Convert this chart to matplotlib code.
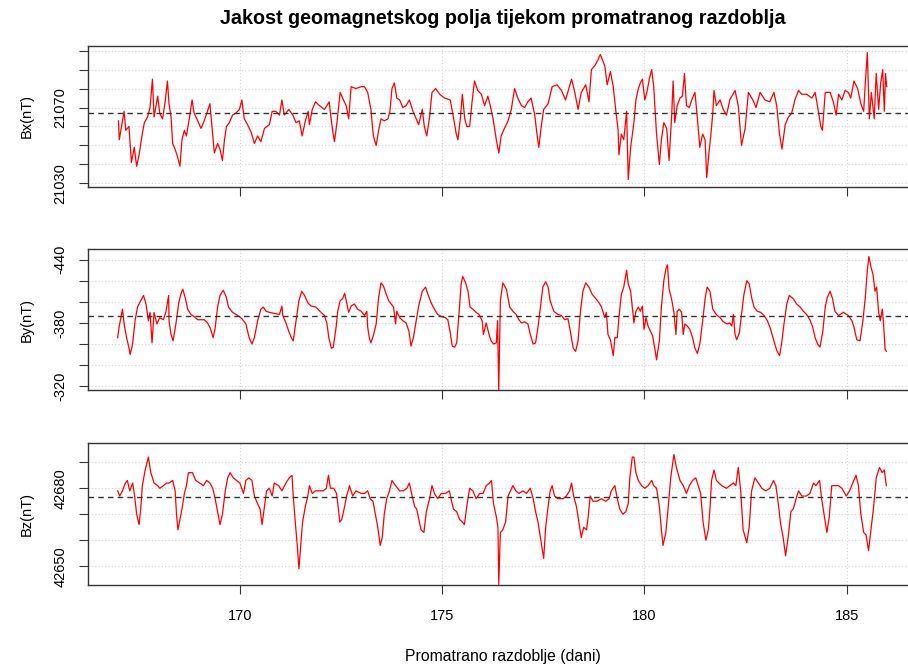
import matplotlib
matplotlib.use("Agg")
import matplotlib.pyplot as plt

plt.rcParams["font.family"] = ["Liberation Sans", "DejaVu Sans"]

# Bx (nT)
bx_day = [167.00, 167.02, 167.14, 167.18, 167.26, 167.32, 167.39, 167.45, 167.51, 167.58,
          167.64, 167.72, 167.78, 167.84, 167.88, 167.97, 168.02, 168.09, 168.16, 168.21,
          168.25, 168.30, 168.34, 168.40, 168.46, 168.52, 168.57, 168.63, 168.68, 168.75,
          168.82, 168.87, 168.96, 169.04, 169.12, 169.20, 169.26, 169.31, 169.37, 169.45,
          169.51, 169.57, 169.62, 169.67, 169.74, 169.82, 169.90, 169.99, 170.05, 170.11,
          170.19, 170.28, 170.36, 170.44, 170.52, 170.61, 170.73, 170.80, 170.89, 170.98,
          171.04, 171.10, 171.21, 171.31, 171.39, 171.47, 171.54, 171.62, 171.69, 171.72,
          171.79, 171.87, 171.97, 172.09, 172.21, 172.24, 172.30, 172.34, 172.40, 172.48,
          172.56, 172.63, 172.69, 172.75, 172.87, 173.00, 173.08, 173.16,
          173.24, 173.30, 173.37, 173.43, 173.49, 173.57, 173.66, 173.71, 173.76, 173.82,
          173.88, 173.95, 174.03, 174.11, 174.19, 174.28, 174.36, 174.42, 174.51, 174.56,
          174.62, 174.69, 174.75, 174.84, 174.94, 175.06, 175.20, 175.27, 175.35, 175.39,
          175.45, 175.50, 175.56, 175.61, 175.68, 175.74, 175.80, 175.88, 175.97, 176.05,
          176.13, 176.19, 176.26, 176.34, 176.40, 176.46, 176.54, 176.63, 176.71, 176.79,
          176.87, 176.96, 177.04, 177.12, 177.20, 177.29, 177.35, 177.39, 177.45, 177.51,
          177.62, 177.72, 177.84, 177.95, 178.05, 178.20, 178.28, 178.36, 178.44, 178.55,
          178.63, 178.69, 178.77, 178.85, 178.91, 179.02, 179.08, 179.16, 179.23, 179.29,
          179.35, 179.37, 179.43, 179.49, 179.56, 179.60, 179.66,
          179.74, 179.79, 179.85, 179.90, 179.95, 180.01, 180.07, 180.12, 180.18, 180.23,
          180.30, 180.37, 180.42, 180.48, 180.55, 180.61, 180.67, 180.71, 180.75, 180.81,
          180.88, 180.94, 180.99, 181.04, 181.11, 181.17, 181.25, 181.31, 181.37, 181.44,
          181.50, 181.54, 181.59, 181.64, 181.69, 181.72, 181.78, 181.87, 181.95, 182.03,
          182.11, 182.24, 182.32, 182.40, 182.49, 182.57, 182.68, 182.76, 182.86, 182.98,
          183.10, 183.20, 183.27, 183.34, 183.40, 183.48, 183.56, 183.64, 183.72, 183.81,
          183.89, 184.01, 184.14, 184.22, 184.30, 184.36, 184.40, 184.47, 184.59, 184.67,
          184.74, 184.80, 184.88, 184.96, 185.04, 185.10, 185.18, 185.27, 185.35, 185.42,
          185.46, 185.51, 185.56, 185.61, 185.68, 185.73, 185.79, 185.84, 185.89, 185.93,
          185.96, 185.99]
bx = [21063, 21053, 21068, 21058, 21060, 21041, 21049, 21039, 21045, 21055,
      21062, 21065, 21070, 21085, 21065, 21076, 21067, 21064, 21074, 21084,
      21072, 21065, 21051, 21048, 21044, 21039, 21053, 21058, 21055, 21064,
      21074, 21067, 21063, 21059, 21063, 21068, 21072, 21060, 21046, 21051,
      21048, 21042, 21053, 21060, 21062, 21066, 21067, 21069, 21074, 21064,
      21061, 21057, 21051, 21055, 21052, 21059, 21061, 21068, 21068, 21066,
      21074, 21066, 21069, 21066, 21062, 21063, 21055, 21063, 21068, 21061,
      21069, 21073, 21071, 21069, 21073, 21067, 21057, 21052, 21062, 21078,
      21074, 21071, 21064, 21081, 21080, 21081, 21081, 21078,
      21069, 21055, 21050, 21058, 21064, 21063, 21064, 21068, 21080, 21083,
      21075, 21074, 21070, 21071, 21074, 21068, 21064, 21061, 21069, 21060,
      21055, 21065, 21078, 21080, 21077, 21075, 21074, 21066, 21056, 21053,
      21064, 21077, 21064, 21060, 21060, 21073, 21084, 21079, 21077, 21071,
      21076, 21071, 21064, 21053, 21046, 21055, 21059, 21063, 21069, 21080,
      21075, 21071, 21070, 21073, 21075, 21066, 21055, 21049, 21060, 21069,
      21072, 21081, 21082, 21079, 21074, 21085, 21078, 21069, 21078, 21082,
      21073, 21090, 21092, 21095, 21098, 21092, 21082, 21089, 21081, 21069,
      21058, 21045, 21056, 21053, 21068, 21032, 21049,
      21062, 21074, 21080, 21083, 21085, 21074, 21079, 21085, 21090, 21081,
      21056, 21040, 21053, 21062, 21059, 21042, 21064, 21084, 21062, 21071,
      21075, 21076, 21088, 21071, 21070, 21074, 21078, 21064, 21049, 21056,
      21053, 21033, 21045, 21055, 21067, 21079, 21071, 21074, 21069, 21066,
      21074, 21079, 21071, 21050, 21059, 21078, 21074, 21070, 21078, 21074,
      21073, 21078, 21071, 21056, 21048, 21061, 21065, 21067, 21074, 21079,
      21077, 21077, 21075, 21078, 21068, 21060, 21058, 21078, 21078, 21073,
      21066, 21077, 21074, 21079, 21078, 21075, 21084, 21080, 21072, 21068,
      21083, 21099, 21064, 21078, 21064, 21088, 21069, 21083, 21090, 21068,
      21088, 21081]

# By (nT)
by_day = [166.98, 167.02, 167.06, 167.10, 167.14, 167.20, 167.25, 167.29, 167.35, 167.41,
          167.47, 167.55, 167.62, 167.68, 167.74, 167.78, 167.83, 167.88, 167.95, 168.02,
          168.11, 168.17, 168.24, 168.25, 168.30, 168.35, 168.42, 168.49, 168.54, 168.59,
          168.65, 168.71, 168.79, 168.87, 168.96, 169.04, 169.12, 169.20, 169.27, 169.34,
          169.39, 169.45, 169.51, 169.59, 169.66, 169.72, 169.82, 169.95, 170.05, 170.15,
          170.23, 170.30, 170.36, 170.44, 170.52, 170.58, 170.65, 170.73, 170.85, 170.98,
          171.04, 171.06, 171.14, 171.21, 171.27, 171.32, 171.39, 171.46, 171.53, 171.60,
          171.68, 171.76, 171.88, 171.98, 172.09, 172.15, 172.20, 172.26, 172.31, 172.38,
          172.42, 172.48, 172.54, 172.59, 172.63, 172.69, 172.75, 172.83, 172.91, 173.00,
          173.08, 173.14,
          173.16, 173.20, 173.24, 173.30, 173.37, 173.43, 173.49, 173.55, 173.62, 173.68,
          173.74, 173.80, 173.85, 173.88, 173.95, 174.03, 174.11, 174.18, 174.23, 174.29,
          174.36, 174.42, 174.51, 174.59, 174.65, 174.73, 174.81, 174.89, 174.98, 175.08,
          175.14, 175.20, 175.25, 175.31, 175.36, 175.43, 175.47, 175.51, 175.58, 175.64,
          175.69, 175.76, 175.84, 175.91, 175.99, 176.02, 176.09, 176.16, 176.21, 176.27,
          176.34, 176.37, 176.40, 176.44, 176.50, 176.59, 176.67, 176.75, 176.83, 176.90,
          176.96, 177.04, 177.12, 177.18, 177.25, 177.31, 177.37, 177.43, 177.49, 177.56,
          177.62, 177.67, 177.76, 177.86, 177.95, 178.03, 178.11, 178.17, 178.24, 178.30,
          178.36, 178.42, 178.48, 178.55, 178.63, 178.71, 178.80, 178.88, 178.94, 179.02,
          179.06, 179.10, 179.16, 179.23, 179.27, 179.33, 179.37, 179.43, 179.49, 179.56,
          179.60, 179.66,
          179.74, 179.79, 179.85, 179.90, 179.95, 179.99, 180.04, 180.09, 180.15, 180.20,
          180.26, 180.30, 180.37, 180.42, 180.48, 180.53, 180.57, 180.61, 180.67, 180.73,
          180.78, 180.81, 180.86, 180.92, 180.96, 181.00, 181.06, 181.12, 181.19, 181.25,
          181.31, 181.37, 181.44, 181.50, 181.55, 181.62, 181.69, 181.74, 181.80, 181.87,
          181.93, 181.99, 182.05, 182.11, 182.16, 182.20, 182.24, 182.28, 182.35, 182.40,
          182.46, 182.53, 182.59, 182.65, 182.71, 182.79, 182.87, 182.96, 183.04, 183.12,
          183.20, 183.27, 183.34, 183.39, 183.45, 183.52, 183.58, 183.68, 183.76, 183.85,
          183.93, 184.01, 184.09, 184.16, 184.22, 184.28, 184.34, 184.41, 184.47, 184.52,
          184.59, 184.65, 184.71, 184.80, 184.92, 185.04, 185.13, 185.18, 185.25, 185.33,
          185.40, 185.46, 185.51, 185.55, 185.60, 185.65, 185.70, 185.74, 185.79, 185.83,
          185.88, 185.91, 185.95, 185.98]
by = [-366, -377, -385, -393, -379, -366, -358, -350, -360, -382,
      -395, -401, -406, -398, -382, -390, -361, -390, -379, -385,
      -383, -390, -406, -382, -369, -363, -379, -399, -407, -412,
      -404, -393, -388, -386, -383, -383, -383, -380, -375, -366,
      -375, -395, -406, -411, -405, -395, -390, -387, -384, -379,
      -366, -360, -366, -382, -393, -395, -391, -390, -389, -388,
      -396, -387, -380, -372, -366, -363, -382, -401, -410, -406,
      -399, -396, -395, -391, -387, -380, -366, -356, -357, -376,
      -391, -401, -403, -408, -401, -390, -396, -398, -393, -391,
      -387, -391,
      -376, -366, -361, -368, -379, -404, -418, -415, -407, -401,
      -398, -395, -379, -391, -385, -382, -380, -372, -358, -366,
      -382, -396, -410, -414, -407, -399, -393, -388, -386, -385,
      -383, -371, -358, -357, -361, -395, -417, -424, -418, -410,
      -395, -393, -390, -388, -382, -369, -380, -369, -363, -360,
      -361, -382, -316, -401, -418, -412, -395, -391, -388, -383,
      -380, -381, -379, -369, -360, -361, -376, -395, -414, -419,
      -414, -401, -391, -388, -387, -383, -384, -372, -356, -353,
      -363, -391, -410, -418, -414, -407, -403, -399, -395, -385,
      -390, -369, -364, -349, -366, -366, -385, -407, -414, -430,
      -417, -410,
      -380, -391, -395, -391, -396, -374, -385, -377, -372, -368,
      -355, -345, -363, -395, -420, -431, -435, -412, -403, -390,
      -369, -391, -393, -390, -369, -379, -377, -374, -366, -356,
      -351, -360, -382, -403, -414, -410, -393, -390, -387, -385,
      -382, -380, -379, -380, -377, -388, -369, -364, -371, -388,
      -407, -420, -417, -404, -395, -391, -390, -387, -382, -374,
      -363, -354, -349, -360, -379, -398, -406, -403, -398, -395,
      -391, -388, -383, -376, -366, -360, -357, -372, -395, -404,
      -410, -403, -391, -387, -390, -387, -382, -376, -364, -363,
      -382, -404, -430, -443, -433, -426, -410, -414, -390, -382,
      -393, -380, -355, -353]

# Bz (nT)
bz_day = [166.98, 167.03, 167.10, 167.17, 167.22, 167.28, 167.35, 167.40, 167.45, 167.51,
          167.55, 167.59, 167.66, 167.74, 167.80, 167.88, 167.97, 168.02, 168.11, 168.19,
          168.25, 168.34, 168.40, 168.44, 168.47, 168.52, 168.57, 168.63, 168.68, 168.73,
          168.83, 168.91, 169.01, 169.10, 169.18, 169.26, 169.33, 169.39, 169.45, 169.51,
          169.57, 169.64, 169.70, 169.76, 169.84, 169.92, 170.00, 170.09, 170.15, 170.22,
          170.30, 170.36, 170.44, 170.50, 170.55, 170.61, 170.66, 170.73, 170.80, 170.85,
          170.96, 171.04, 171.14, 171.22, 171.29, 171.32, 171.37, 171.42, 171.46, 171.50,
          171.55, 171.62, 171.68, 171.72, 171.79, 171.87, 171.97, 172.06, 172.14, 172.19,
          172.24, 172.32, 172.39, 172.43, 172.47, 172.52, 172.59, 172.64, 172.71, 172.79,
          172.87, 173.00,
          173.08, 173.16, 173.22, 173.29, 173.35, 173.41, 173.47, 173.52, 173.57, 173.63,
          173.70, 173.76, 173.85, 173.95, 174.04, 174.13, 174.19, 174.26, 174.32, 174.37,
          174.44, 174.48, 174.55, 174.61, 174.69, 174.75, 174.81, 174.89, 174.98, 175.08,
          175.18, 175.22, 175.28, 175.36, 175.43, 175.50, 175.55, 175.61, 175.68, 175.76,
          175.84, 175.93, 176.01, 176.09, 176.17, 176.22, 176.27, 176.34, 176.38, 176.40,
          176.44, 176.50, 176.57, 176.63, 176.69, 176.75, 176.82, 176.90, 177.00, 177.08,
          177.18, 177.25, 177.31, 177.37, 177.43, 177.48, 177.51, 177.56, 177.62, 177.67,
          177.72, 177.78, 177.86, 177.99, 178.07, 178.15, 178.20, 178.25, 178.32, 178.38,
          178.44, 178.50, 178.57, 178.61, 178.66, 178.73, 178.83, 178.94, 179.04, 179.13,
          179.18, 179.27, 179.33, 179.39, 179.47, 179.54, 179.60, 179.64,
          179.70, 179.74, 179.79, 179.85, 179.93, 180.01, 180.09, 180.18, 180.23, 180.30,
          180.37, 180.42, 180.46, 180.53, 180.59, 180.65, 180.73, 180.79, 180.88, 180.96,
          181.04, 181.11, 181.19, 181.27, 181.33, 181.39, 181.45, 181.52, 181.58, 181.62,
          181.66, 181.72, 181.78, 181.91, 182.03, 182.11, 182.20, 182.26, 182.32, 182.38,
          182.44, 182.53, 182.59, 182.65, 182.73, 182.82, 182.90, 183.00, 183.10, 183.19,
          183.25, 183.31, 183.37, 183.43, 183.49, 183.56, 183.62, 183.68, 183.75, 183.81,
          183.89, 184.00, 184.09, 184.18, 184.24, 184.33, 184.38, 184.44, 184.51, 184.57,
          184.63, 184.71, 184.80, 184.88, 184.99, 185.07, 185.15, 185.23, 185.29, 185.35,
          185.42, 185.48, 185.54, 185.60, 185.66, 185.73, 185.81, 185.88, 185.93, 185.98]
bz = [42679, 42677, 42679, 42682, 42683, 42679, 42682, 42677, 42670, 42666,
      42672, 42681, 42687, 42692, 42686, 42682, 42681, 42680, 42681, 42682,
      42682, 42683, 42679, 42669, 42664, 42668, 42672, 42678, 42681, 42686,
      42686, 42683, 42682, 42681, 42683, 42682, 42680, 42676, 42671, 42666,
      42670, 42679, 42684, 42686, 42684, 42683, 42682, 42678, 42683, 42684,
      42683, 42677, 42674, 42672, 42666, 42673, 42679, 42680, 42677, 42682,
      42681, 42679, 42682, 42684, 42685, 42677, 42667, 42658, 42649, 42657,
      42667, 42673, 42677, 42681, 42678, 42679, 42679, 42679, 42680, 42685,
      42680, 42680, 42678, 42673, 42667, 42668, 42673, 42677, 42681, 42677,
      42679, 42678,
      42678, 42679, 42676, 42675, 42670, 42665, 42658, 42661, 42670, 42676,
      42679, 42683, 42681, 42679, 42679, 42680, 42682, 42677, 42673, 42672,
      42667, 42664, 42663, 42671, 42676, 42681, 42678, 42676, 42678, 42678,
      42679, 42676, 42672, 42671, 42668, 42667, 42666, 42673, 42680, 42679,
      42676, 42678, 42678, 42681, 42682, 42683, 42674, 42669, 42665, 42643,
      42663, 42664, 42667, 42677, 42679, 42681, 42679, 42678, 42679, 42678,
      42680, 42676, 42671, 42667, 42661, 42656, 42653, 42665, 42673, 42679,
      42681, 42677, 42676, 42676, 42677, 42679, 42682, 42677, 42673, 42667,
      42661, 42665, 42664, 42669, 42677, 42675, 42675, 42676, 42675, 42676,
      42679, 42681, 42676, 42672, 42670, 42671, 42674, 42684,
      42692, 42692, 42686, 42683, 42681, 42680, 42681, 42683, 42681, 42680,
      42673, 42664, 42658, 42663, 42673, 42684, 42693, 42688, 42683, 42681,
      42678, 42681, 42683, 42684, 42681, 42678, 42667, 42660, 42664, 42672,
      42683, 42687, 42683, 42681, 42680, 42681, 42682, 42681, 42688, 42679,
      42664, 42659, 42665, 42679, 42684, 42682, 42680, 42679, 42680, 42683,
      42681, 42674, 42666, 42661, 42654, 42662, 42671, 42672, 42676, 42679,
      42677, 42677, 42678, 42682, 42681, 42683, 42676, 42670, 42663, 42669,
      42681, 42681, 42681, 42680, 42677, 42679, 42682, 42685, 42681, 42670,
      42663, 42662, 42656, 42664, 42672, 42684, 42688, 42686, 42687, 42681]

# horizontal reference (mean) levels
bx_mean = 21067
by_mean = -387
bz_mean = 42676.7

x_ticks = [170, 175, 180, 185]
panels = [
    (bx_day, bx, bx_mean, "Bx(nT)", (21028.2, 21102.6),
     list(range(21030, 21101, 10)), {21070: "21070", 21030: "21030"}),
    (by_day, by, by_mean, "By(nT)", (-315.9, -450.1),
     list(range(-440, -319, 20)), {-440: "-440", -380: "-380", -320: "-320"}),
    (bz_day, bz, bz_mean, "Bz(nT)", (42642.9, 42697.3),
     list(range(42650, 42691, 10)), {42680: "42680", 42650: "42650"}),
]
boxes = [(0.0966, 0.7192, 0.9143, 0.2120),
         (0.0966, 0.4128, 0.9143, 0.2128),
         (0.0966, 0.1208, 0.9143, 0.2126)]

fig = plt.figure(figsize=(9.08, 6.65), dpi=100)
for i, (days, vals, mean, label, ylim, yt, ylab) in enumerate(panels):
    ax = fig.add_axes(boxes[i])
    ax.set_xlim(166.24, 186.76)
    ax.set_ylim(*ylim)
    ax.set_xticks(x_ticks)
    ax.set_yticks(yt)
    ax.set_yticklabels([ylab.get(v, "") for v in yt])
    for t in ax.get_yticklabels():
        t.set_rotation(90)
        t.set_va("center")
    if i < 2:
        ax.set_xticklabels([])
    ax.tick_params(axis="y", direction="out", length=6.5, width=0.8, labelsize=10.5,
                   color="#333333", pad=8)
    ax.tick_params(axis="x", direction="out", length=6.5, width=0.8, labelsize=10.5,
                   color="#333333", pad=11)
    ax.grid(True, color="#d3d3d3", linestyle=(0, (1, 2)), linewidth=0.8)
    ax.set_axisbelow(True)
    for s in ax.spines.values():
        s.set_color("#333333")
        s.set_linewidth(1.0)
    ax.plot(days, vals, color="red", linewidth=0.9)
    ax.axhline(mean, color="#333333", linestyle=(0, (4, 3)), linewidth=1.0)
    ax.set_ylabel(label, fontsize=10.5, labelpad=14)
    if i == 2:
        ax.set_xlabel("Promatrano razdoblje (dani)", fontsize=11.3, labelpad=19)

fig.text(0.5537, 0.972, "Jakost geomagnetskog polja tijekom promatranog razdoblja",
         ha="center", va="center", fontsize=14.2, fontweight="bold")

fig.savefig("out.png", dpi=100)
